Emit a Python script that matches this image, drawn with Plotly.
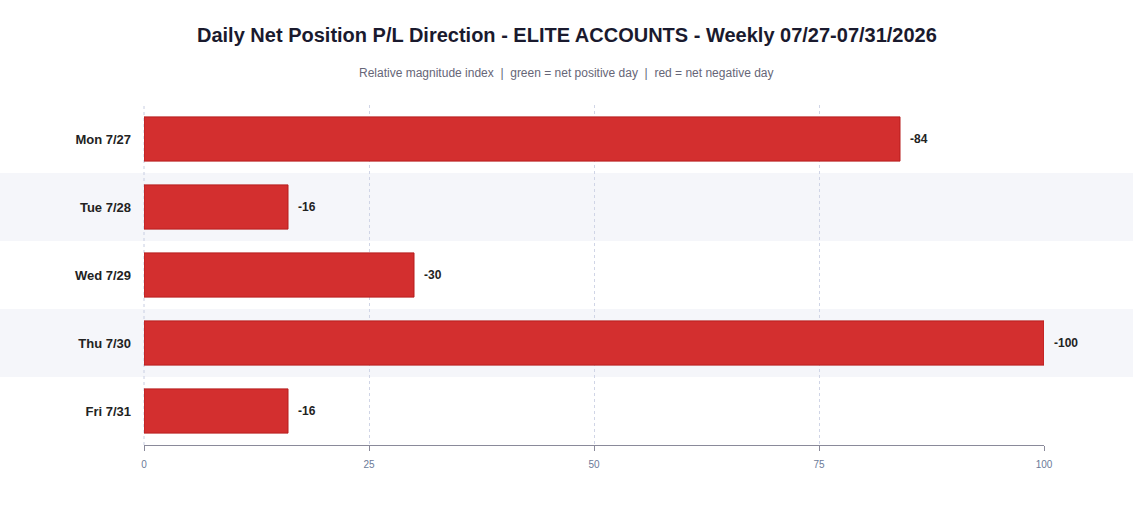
import plotly.graph_objects as go

# Data
days = ["Mon 7/27", "Tue 7/28", "Wed 7/29", "Thu 7/30", "Fri 7/31"]
net_index = [-84, -16, -30, -100, -16]
tick_vals = [0, 25, 50, 75, 100]

magnitude = [abs(v) for v in net_index]
colors = ["#d32f2f" if v < 0 else "#2e9e4f" for v in net_index]
edge = ["#b71c1c" if v < 0 else "#1b7a36" for v in net_index]

fig = go.Figure()
fig.add_trace(go.Bar(
    x=magnitude, y=days, orientation="h",
    marker=dict(color=colors, line=dict(color=edge, width=1)),
    hoverinfo="skip", showlegend=False,
))

# alternating row shading
shapes = []
for i in range(len(days)):
    if i % 2 == 1:
        shapes.append(dict(type="rect", xref="paper", yref="y",
                           x0=-0.2, x1=1.2, y0=i - 0.5, y1=i + 0.5,
                           fillcolor="#f5f6fa", line=dict(width=0), layer="below"))
# plotly drops the grid line at the range edge, so draw the one at 0
shapes.append(dict(type="line", xref="paper", yref="paper", x0=0, x1=0, y0=0, y1=1,
                   line=dict(color="#c8cee2", width=1, dash="3px,3px"), layer="below"))

# value labels just past the bar ends
annotations = []
for d, m, v in zip(days, magnitude, net_index):
    annotations.append(dict(x=m, y=d, xref="x", yref="y", text="<b>%d</b>" % v,
                            showarrow=False, xanchor="left", xshift=8,
                            font=dict(size=12, color="#222222")))

mid = (1133 / 2 - 144) / 900  # page centre in paper units
annotations += [
    dict(text="<b>Daily Net Position P/L Direction - ELITE ACCOUNTS - Weekly 07/27-07/31/2026</b>",
         xref="paper", yref="paper", x=mid, y=1, yshift=70, showarrow=False,
         font=dict(size=20, color="#1a1a2e"), xanchor="center", yanchor="middle"),
    dict(text="Relative magnitude index  |  green = net positive day  |  red = net negative day",
         xref="paper", yref="paper", x=mid, y=1, yshift=32, showarrow=False,
         font=dict(size=12, color="#666677"), xanchor="center", yanchor="middle"),
]

fig.update_layout(
    width=1133, height=509,
    margin=dict(l=144, r=89, t=105, b=64),
    paper_bgcolor="white", plot_bgcolor="rgba(0,0,0,0)",
    font=dict(family="Liberation Sans, Arial"),
    bargap=0.35,
    shapes=shapes,
    annotations=annotations,
)
fig.update_xaxes(
    range=[0, 100], tickvals=tick_vals,
    showgrid=True, gridcolor="#d0d5e6", griddash="3px,3px", gridwidth=1,
    zeroline=False, showline=True, linecolor="#8a8a9a", linewidth=1,
    ticks="outside", ticklen=5, tickcolor="#8a8a9a",
    ticklabelstandoff=5,
    tickfont=dict(size=10, color="#6b7a99"),
)
fig.update_yaxes(
    autorange="reversed", showgrid=False, zeroline=False, showline=False,
    ticklabelstandoff=12,
    tickfont=dict(size=13, color="#222222", weight="bold"),
)

fig.write_html("out.html", config={"displayModeBar": False},
               post_script="document.body.style.margin='0';")
